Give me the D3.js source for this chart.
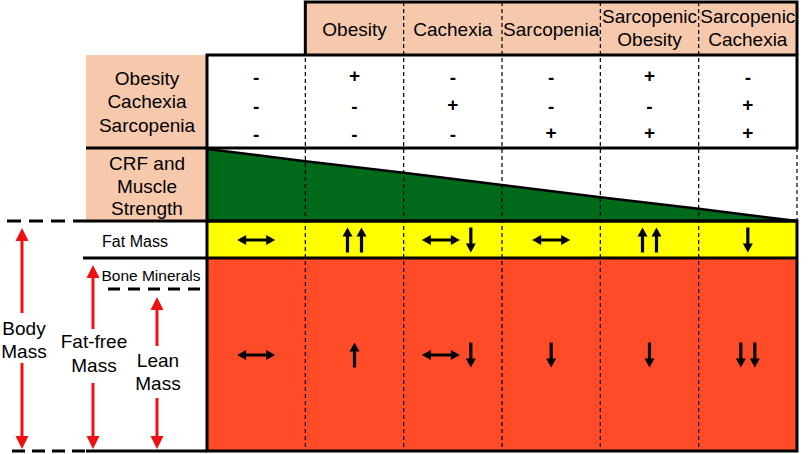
<!DOCTYPE html>
<html>
<head>
<meta charset="utf-8">
<script src="https://cdn.jsdelivr.net/npm/d3@7"></script>
<style>
  body { margin: 0; background: #fff; }
  svg { display: block; font-family: "Liberation Sans", Arial, sans-serif; }
</style>
</head>
<body>
<div id="chart"></div>
<script>
// columns of the table (first one is the reference, no header)
var groups = ['Normal', 'Obesity', 'Cachexia', 'Sarcopenia', 'Sarcopenic Obesity', 'Sarcopenic Cachexia'];
var headerLabels = ['', 'Obesity', 'Cachexia', 'Sarcopenia', 'Sarcopenic\nObesity', 'Sarcopenic\nCachexia'];

// presence of each component per column
var components = ['Obesity', 'Cachexia', 'Sarcopenia'];
var obesitySigns = ['-', '+', '-', '-', '+', '-'];
var cachexiaSigns = ['-', '-', '+', '-', '-', '+'];
var sarcopeniaSigns = ['-', '-', '-', '+', '+', '+'];

// CRF and muscle strength, relative level at each column boundary
var crfLevel = [1.0, 0.83, 0.67, 0.50, 0.33, 0.17, 0.0];

// changes: lr = unchanged, u = up, d = down
var fatMassChange = ['lr', 'uu', 'lr d', 'lr', 'uu', 'd'];
var leanMassChange = ['lr', 'u', 'lr d', 'd', 'd', 'dd'];

// body compartments on the left side
var compartments = [
  { label: ['Body', 'Mass'], x: 22, top: 228, gap: [313, 363], text: [335, 358], tx: 24 },
  { label: ['Fat-free', 'Mass'], x: 93, top: 265, gap: [329, 383], text: [348, 372], tx: 94 },
  { label: ['Lean', 'Mass'], x: 157, top: 297, gap: [346, 398], text: [367, 390], tx: 158 }
];

var W = 810, H = 454;
var pink = '#f6c9ad', green = '#006a1b', yellow = '#ffff00', red = '#ff4b28', arrowRed = '#f01010';
var left = 207, right = 797;
var row = { headTop: 2, headBottom: 55, signBottom: 148, crfBottom: 221, fatBottom: 258, bottom: 451 };

var svg = d3.select('#chart').append('svg')
  .attr('width', W)
  .attr('height', H);

// scales
var xScale = d3.scaleBand().domain(d3.range(groups.length)).range([left, right]);
var edgeScale = d3.scaleLinear().domain([0, groups.length]).range([left, right]);
var crfY = d3.scaleLinear().domain([0, 1]).range([row.crfBottom, row.signBottom + 1]);
var signY = d3.scalePoint().domain(components).range([76, 133]);

//header cells
var head = svg.append('g').attr('class', 'header');
head.append('rect')
  .attr('x', xScale(1)).attr('y', row.headTop)
  .attr('width', right - xScale(1)).attr('height', row.headBottom - row.headTop)
  .attr('fill', pink);
head.selectAll('text')
  .data(headerLabels.map(function (d, i) { return { lines: d.split('\n'), i: i }; }).filter(function (d) { return d.i > 0; }))
  .enter().append('text')
  .attr('text-anchor', 'middle')
  .attr('font-size', 19)
  .each(function (d) {
    var t = d3.select(this);
    var ys = d.lines.length == 1 ? [36] : [23, 46];
    d.lines.forEach(function (l, k) {
      t.append('tspan').attr('x', xScale(d.i) + xScale.bandwidth() / 2).attr('y', ys[k]).text(l);
    });
  });

//left label boxes
svg.append('rect').attr('x', 86).attr('y', row.headBottom).attr('width', left - 86)
  .attr('height', row.crfBottom - row.headBottom).attr('fill', pink);

var labels = svg.append('g').attr('font-size', 19).attr('text-anchor', 'middle');
[['Obesity', 85], ['Cachexia', 108], ['Sarcopenia', 132],
 ['CRF and', 170], ['Muscle', 193], ['Strength', 215]].forEach(function (d) {
  labels.append('text').attr('x', 147).attr('y', d[1]).text(d[0]);
});

//sign rows
var signRows = [obesitySigns, cachexiaSigns, sarcopeniaSigns];
var signs = svg.append('g').attr('font-size', 19).attr('font-weight', 'bold').attr('text-anchor', 'middle');
signRows.forEach(function (vals, r) {
  signs.selectAll(null).data(vals).enter().append('text')
    .attr('x', function (d, i) { return xScale(i) + xScale.bandwidth() / 2; })
    .attr('y', function (d) { return signY(components[r]) + (d == '+' ? 6 : 8); })
    .text(function (d) { return d; });
});

//CRF area
var crfArea = d3.area()
  .x(function (d, i) { return edgeScale(i); })
  .y0(row.crfBottom)
  .y1(function (d) { return crfY(d); });
var crfLine = d3.line()
  .x(function (d, i) { return edgeScale(i); })
  .y(function (d) { return crfY(d); });
svg.append('path').attr('d', crfArea(crfLevel)).attr('fill', green);

//fat mass & fat-free blocks
svg.append('rect').attr('x', left).attr('y', row.crfBottom).attr('width', right - left)
  .attr('height', row.fatBottom - row.crfBottom).attr('fill', yellow);
svg.append('rect').attr('x', left).attr('y', row.fatBottom).attr('width', right - left)
  .attr('height', row.bottom - row.fatBottom).attr('fill', red);

//dashed column separators
svg.append('g').selectAll('line')
  .data(d3.range(1, groups.length)).enter().append('line')
  .attr('x1', function (d) { return xScale(d); }).attr('x2', function (d) { return xScale(d); })
  .attr('y1', row.headTop).attr('y2', row.bottom)
  .attr('stroke', '#000').attr('stroke-width', 1.2).attr('stroke-dasharray', '4,3');
svg.append('line').attr('x1', right).attr('x2', right).attr('y1', row.signBottom).attr('y2', row.crfBottom)
  .attr('stroke', '#000').attr('stroke-width', 1.2).attr('stroke-dasharray', '4,3');

svg.append('path').attr('d', crfLine(crfLevel)).attr('fill', 'none').attr('stroke', '#000').attr('stroke-width', 2.5);

//thick borders
var borders = svg.append('g').attr('stroke', '#000').attr('stroke-width', 3).attr('fill', 'none');
borders.append('path').attr('d', 'M' + xScale(1) + ',' + row.headBottom + 'V' + row.headTop + 'H' + right + 'V' + row.headBottom);
borders.append('rect').attr('x', left).attr('y', row.headBottom).attr('width', right - left).attr('height', row.signBottom - row.headBottom);
borders.append('path').attr('d', 'M' + left + ',' + row.signBottom + 'V' + row.bottom + 'H' + right + 'V' + row.crfBottom + 'H' + left);
borders.append('line').attr('x1', 86).attr('x2', left).attr('y1', row.signBottom).attr('y2', row.signBottom);
borders.append('line').attr('x1', 83).attr('x2', right).attr('y1', row.crfBottom).attr('y2', row.crfBottom);
borders.append('line').attr('x1', 83).attr('x2', right).attr('y1', row.fatBottom).attr('y2', row.fatBottom);
borders.append('line').attr('x1', 86).attr('x2', left).attr('y1', row.bottom).attr('y2', row.bottom);
borders.append('line').attr('x1', 7).attr('x2', 83).attr('y1', row.crfBottom).attr('y2', row.crfBottom).attr('stroke-dasharray', '14,8');
borders.append('line').attr('x1', 12).attr('x2', 86).attr('y1', row.bottom).attr('y2', row.bottom).attr('stroke-dasharray', '13,7');
borders.append('line').attr('x1', 108).attr('x2', 204).attr('y1', 289).attr('y2', 289).attr('stroke-dasharray', '12,8');

//compartment labels
svg.append('text').attr('x', 135).attr('y', 247).attr('font-size', 16).attr('text-anchor', 'middle').text('Fat Mass');
svg.append('text').attr('x', 151).attr('y', 281).attr('font-size', 15.5).attr('text-anchor', 'middle').text('Bone Minerals');

//black arrows
function arrowPath(type, cx, cy) {
  var L = 25, hw = 5, hl = 9, s = 1.6;
  if (type == 'u') {
    var t = cy - L / 2, b = cy + L / 2;
    return 'M' + cx + ',' + t + 'L' + (cx + hw) + ',' + (t + hl) + 'H' + (cx + s) + 'V' + b + 'H' + (cx - s) + 'V' + (t + hl) + 'H' + (cx - hw) + 'Z';
  }
  if (type == 'd') {
    var t2 = cy - L / 2, b2 = cy + L / 2;
    return 'M' + cx + ',' + b2 + 'L' + (cx + hw) + ',' + (b2 - hl) + 'H' + (cx + s) + 'V' + t2 + 'H' + (cx - s) + 'V' + (b2 - hl) + 'H' + (cx - hw) + 'Z';
  }
  // lr
  var l = cx - 19, r = cx + 19;
  return 'M' + l + ',' + cy + 'L' + (l + hl) + ',' + (cy - hw) + 'V' + (cy - s) + 'H' + (r - hl) + 'V' + (cy - hw) +
    'L' + r + ',' + cy + 'L' + (r - hl) + ',' + (cy + hw) + 'V' + (cy + s) + 'H' + (l + hl) + 'V' + (cy + hw) + 'Z';
}

function drawChanges(list, cy) {
  var g = svg.append('g').attr('fill', '#000');
  list.forEach(function (code, i) {
    var glyphs = [];
    code.split(' ').forEach(function (c) {
      if (c == 'lr') glyphs.push('lr');
      else c.split('').forEach(function (k) { glyphs.push(k); });
    });
    var widths = glyphs.map(function (k) { return k == 'lr' ? 38 : 10; });
    var gaps = glyphs.map(function (k, j) { return j == 0 ? 0 : (k == 'lr' || glyphs[j - 1] == 'lr' ? 6 : 4); });
    var total = d3.sum(widths) + d3.sum(gaps);
    var x = xScale(i) + xScale.bandwidth() / 2 - total / 2 - (glyphs.length > 1 && glyphs[0] == 'lr' ? 4 : 0);
    glyphs.forEach(function (k, j) {
      x += gaps[j];
      g.append('path').attr('d', arrowPath(k, x + widths[j] / 2, cy));
      x += widths[j];
    });
  });
}
drawChanges(fatMassChange, 240);
drawChanges(leanMassChange, 355);

//red compartment arrows
var ra = svg.append('g');
compartments.forEach(function (c) {
  var bottomTip = 449, head = 13, hw = 6.5;
  ra.append('line').attr('x1', c.x).attr('x2', c.x).attr('y1', c.top + head - 1).attr('y2', c.gap[0])
    .attr('stroke', arrowRed).attr('stroke-width', 3);
  ra.append('line').attr('x1', c.x).attr('x2', c.x).attr('y1', c.gap[1]).attr('y2', bottomTip - head + 1)
    .attr('stroke', arrowRed).attr('stroke-width', 3);
  ra.append('path').attr('fill', arrowRed)
    .attr('d', 'M' + c.x + ',' + c.top + 'L' + (c.x + hw) + ',' + (c.top + head) + 'H' + (c.x - hw) + 'Z');
  ra.append('path').attr('fill', arrowRed)
    .attr('d', 'M' + c.x + ',' + bottomTip + 'L' + (c.x + hw) + ',' + (bottomTip - head) + 'H' + (c.x - hw) + 'Z');
  c.label.forEach(function (l, k) {
    ra.append('text').attr('x', c.tx).attr('y', c.text[k]).attr('font-size', 19)
      .attr('text-anchor', 'middle').text(l);
  });
});
</script>
</body>
</html>
